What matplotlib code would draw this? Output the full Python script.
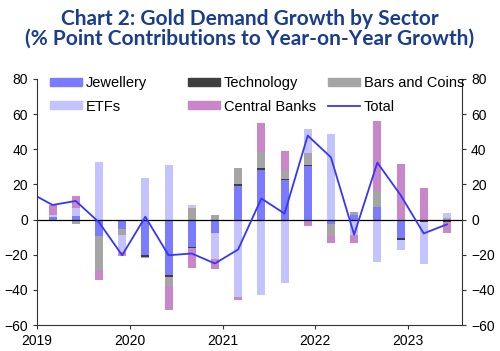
import matplotlib
matplotlib.use("Agg")
import matplotlib.pyplot as plt
import numpy as np
from matplotlib.patches import Patch
from matplotlib.lines import Line2D
from matplotlib.legend import Legend

plt.rcParams['font.family'] = ['Liberation Sans', 'DejaVu Sans']

# quarters 2019Q1 .. 2023Q2 (index 0..17); total line also has 2018Q4 (index -1)
quarters = np.arange(18)
jewellery = [1.5, 2.0, -9.4, -5.6, -20.3, -31.7, -15.5, -7.9, 19.3, 28.3, 22.5, 30.5, -2.7, 2.5, 6.9, -10.5, 0.0, 0.0]
technology = [0.0, 0.0, 0.0, 0.0, -1.0, -1.0, -0.9, 0.0, 1.0, 1.2, 0.6, 0.6, 0.0, 0.0, 0.0, -1.0, -1.2, -1.5]
bars_coins = [0.0, -2.8, -19.5, -3.3, 0.0, -5.1, 6.4, 2.5, 9.0, 9.2, 4.6, 7.0, -6.8, 1.7, 9.5, 0.0, 0.0, 1.0]
etfs = [1.0, 4.6, 32.5, -9.5, 23.9, 31.1, 1.9, -14.8, -44.1, -42.9, -36.0, 13.2, 48.7, -9.0, -24.2, -5.9, -24.0, 3.0]
central_banks = [5.7, 6.8, -5.7, -2.5, -0.6, -13.9, -11.1, -5.6, -1.9, 16.3, 11.2, -3.8, -3.8, -4.6, 39.9, 31.7, 18.0, -5.9]
total_q = np.arange(-1, 18)
total = [15.5, 8.3, 10.6, -1.5, -20.3, 1.6, -20.3, -19.3, -25.0, -17.0, 12.0, 3.4, 47.8, 35.4, -8.6, 32.4, 14.0, -7.9, -2.7]

names = ['Jewellery', 'Technology', 'Bars and Coins', 'ETFs', 'Central Banks']
colors = ['#7b7bff', '#3f3f3f', '#a5a5a5', '#c3c3ff', '#c987c9']
series = [jewellery, technology, bars_coins, etfs, central_banks]

def qpos(q):
    return 2019 + (np.asarray(q) + 0.67) / 4.0

fig = plt.figure(figsize=(5.0, 3.51), dpi=100)
ax = fig.add_axes([0.074, 0.074, 0.85, 0.701])

x = qpos(quarters)
pos_base = np.zeros(len(quarters))
neg_base = np.zeros(len(quarters))
for vals, c in zip(series, colors):
    v = np.array(vals)
    p = np.where(v > 0, v, 0)
    n = np.where(v < 0, v, 0)
    ax.bar(x, p, bottom=pos_base, width=0.086, color=c, linewidth=0)
    ax.bar(x, n, bottom=neg_base, width=0.086, color=c, linewidth=0)
    pos_base += p
    neg_base += n

ax.axhline(0, color='black', lw=0.9)
ax.plot(qpos(total_q), total, color='#3535ff', lw=1.3, clip_on=True)

ax.set_xlim(2019, 2023.58)
ax.set_ylim(-60, 80)
ax.set_yticks(np.arange(-60, 81, 20))
ax.set_xticks([2019, 2020, 2021, 2022, 2023])
ax.tick_params(axis='both', labelsize=10, length=3, direction='out', color='#333333')
ax.tick_params(axis='y', right=True, labelright=True)
for s in ['left', 'right', 'bottom']:
    ax.spines[s].set_color('#333333')
    ax.spines[s].set_linewidth(0.8)
ax.spines['top'].set_visible(False)

h = {nm: Patch(color=c) for nm, c in zip(names, colors)}
tot = Line2D([0], [0], color='#3535ff', lw=1.3)
groups = [(['Jewellery', 'ETFs'], 0.031), (['Technology', 'Central Banks'], 0.356), (['Bars and Coins', 'Total'], 0.685)]
for labs, x0 in groups:
    hs = [tot if l == 'Total' else h[l] for l in labs]
    leg = Legend(ax, hs, labs, loc='upper left', bbox_to_anchor=(x0, 1.012), frameon=False,
                 fontsize=10.5, handlelength=2.2, handleheight=0.45, handletextpad=0.25,
                 labelspacing=0.65, borderpad=0, borderaxespad=0)
    ax.add_artist(leg)

fig.text(0.5, 0.975, 'Chart 2: Gold Demand Growth by Sector\n(% Point Contributions to Year-on-Year Growth)',
         ha='center', va='top', fontsize=15, fontweight='bold', color='#1a3d8f',
         family='Lato', linespacing=1.0)

fig.savefig('out.png', dpi=100)
